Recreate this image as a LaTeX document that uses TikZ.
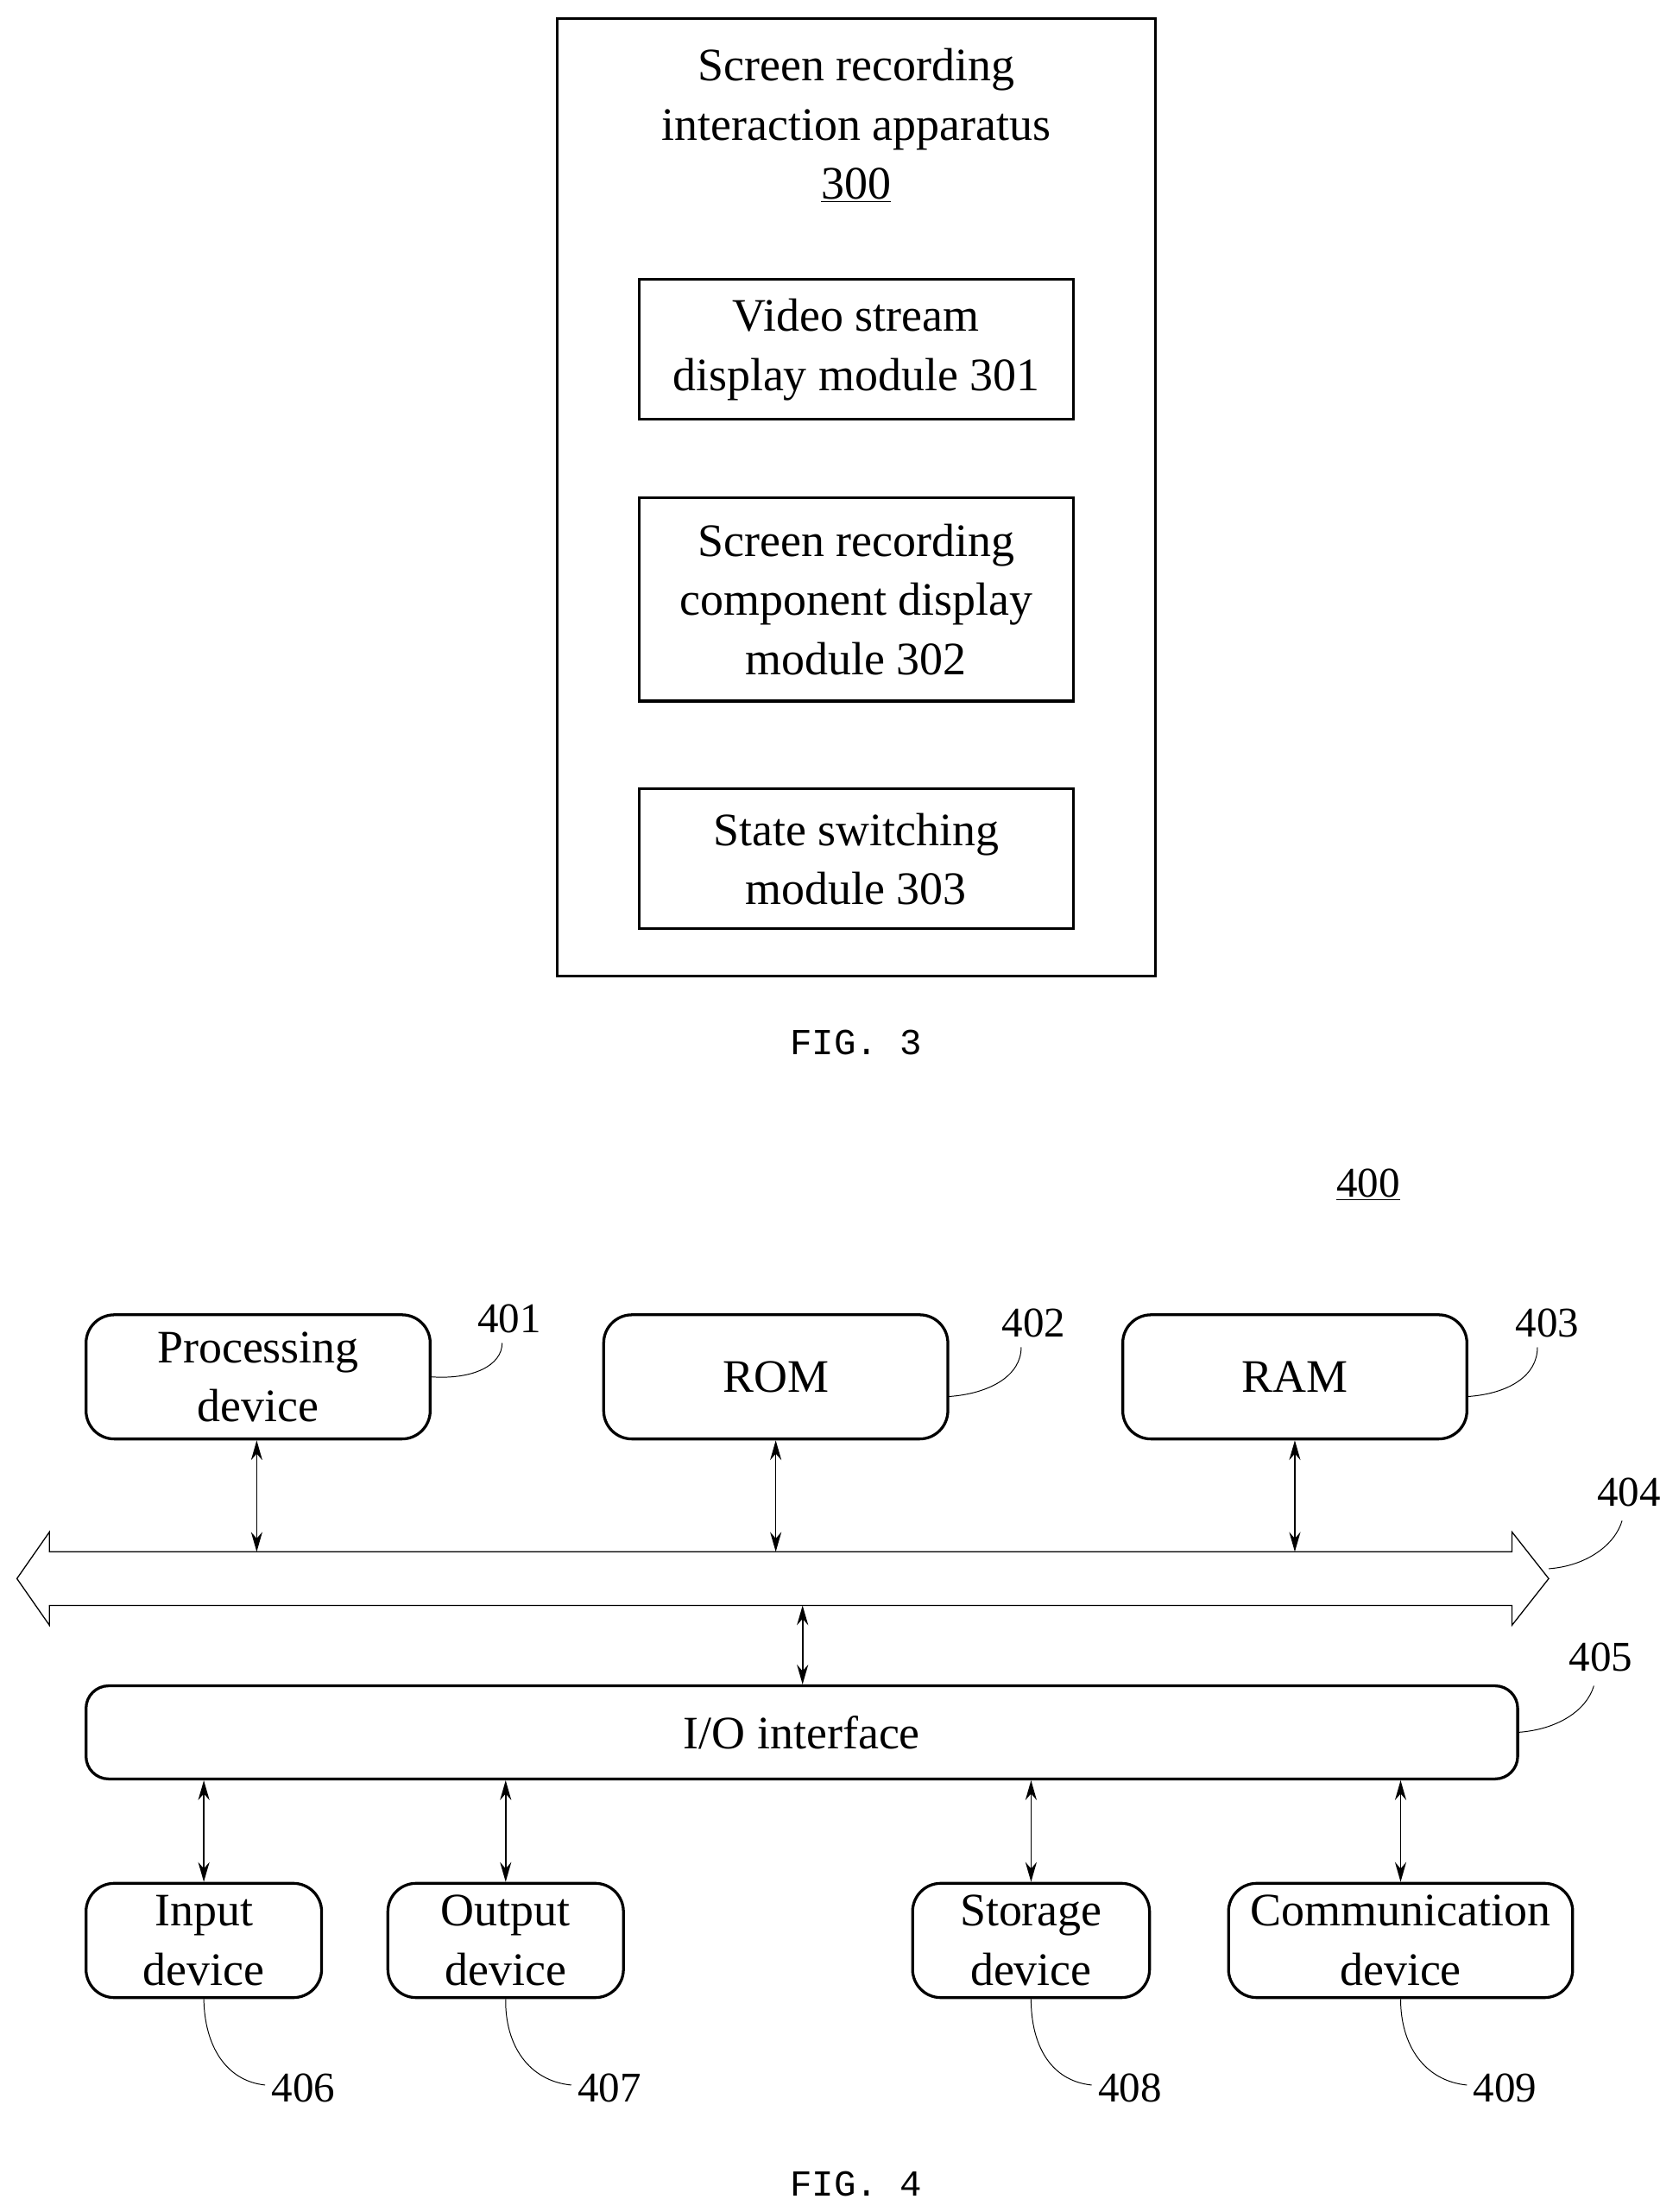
\documentclass[tikz,border=0pt]{standalone}
\usepackage{fontspec}
\setmainfont{Liberation Serif}
\setmonofont{Liberation Mono}
\usetikzlibrary{arrows.meta}
\begin{document}
\begin{tikzpicture}[x=1pt,y=-1pt,
  txt/.style={font=\fontsize{33}{42}\selectfont,align=center},
  num/.style={font=\fontsize{30}{36}\selectfont},
  sq/.style={draw,line width=2pt},
  rb/.style={draw,line width=2pt,rounded corners=20pt},
  arr/.style={line width=1pt,{Stealth[length=14pt,width=8pt]}-{Stealth[length=14pt,width=8pt]}},
  lead/.style={line width=0.6pt}]
\useasboundingbox (0,0) rectangle (1190,1568);
% FIG 3
\draw[sq] (395,13) rectangle (819,692);
\node[txt] (t300) at (607,89) {Screen recording\\interaction apparatus\\\underline{300}};
\draw[sq] (453,198) rectangle (761,297);
\node[txt] (m301) at (607,248) {Video stream\\display module 301};
\draw[sq] (453,353) rectangle (761,497);
\node[txt] (m302) at (607,425) {Screen recording\\component display\\module 302};
\draw[sq] (453,559) rectangle (761,658);
\node[txt] (m303) at (607,609) {State switching\\module 303};
\node[font=\ttfamily\fontsize{26}{30}\selectfont] (f3) at (607,739) {FIG. 3};
% FIG 4
\node[num] (n400) at (970,840) {\underline{400}};
\node[rb,txt,minimum width=244pt,minimum height=88pt] (b401) at (183,976) {Processing\\device};
\node[rb,txt,minimum width=244pt,minimum height=88pt] (b402) at (550,976) {ROM};
\node[rb,txt,minimum width=244pt,minimum height=88pt] (b403) at (918,976) {RAM};
\node[num] (l401) at (361,935) {401};
\node[num] (l402) at (733,938) {402};
\node[num] (l403) at (1097,938) {403};
\draw[lead] (b401.east) ++(0,0) .. controls (335,978) and (356,968) .. (356,952);
\draw[lead] (672,990) .. controls (702,988) and (724,975) .. (724,955);
\draw[lead] (1040,990) .. controls (1070,988) and (1090,975) .. (1090,955);
% bus
\draw[line width=0.8pt,fill=white] (35,1100) -- (1072,1100) -- (1072,1086) -- (1098,1119) -- (1072,1152) -- (1072,1138) -- (35,1138) -- (35,1152) -- (12,1119) -- (35,1086) -- cycle;
\coordinate (bus1) at (182,1100);
\coordinate (bus2) at (550,1100);
\coordinate (bus3) at (918,1100);
\coordinate (busb) at (569,1138);
\node[num] (l404) at (1155,1058) {404};
\draw[lead] (1098,1112) .. controls (1125,1110) and (1145,1095) .. (1150,1078);
\node[rb,txt,minimum width=1015pt,minimum height=66pt,rounded corners=16pt] (io) at (568.5,1228) {I/O interface};
\node[num] (l405) at (1135,1175) {405};
\draw[lead] (1076,1228) .. controls (1105,1226) and (1125,1212) .. (1130,1195);
\draw[arr] (b401.south -| bus1) -- (bus1);
\draw[arr] (b402.south) -- (bus2);
\draw[arr] (b403.south -| bus3) -- (bus3);
\draw[arr] (busb) -- (io.north -| busb);
% bottom
\node[rb,txt,minimum width=167pt,minimum height=81pt] (b406) at (144.5,1375.5) {Input\\device};
\node[rb,txt,minimum width=167pt,minimum height=81pt] (b407) at (358.5,1375.5) {Output\\device};
\node[rb,txt,minimum width=168pt,minimum height=81pt] (b408) at (731,1375.5) {Storage\\device};
\node[rb,txt,minimum width=244pt,minimum height=81pt,inner sep=2pt] (b409) at (993,1375.5) {Communication\\device};
\foreach \b in {406,407,408,409}{\draw[arr] (io.south -| b\b.north) -- (b\b.north);}
\node[num] (l406) at (215,1480) {406};
\node[num] (l407) at (432,1480) {407};
\node[num] (l408) at (801,1480) {408};
\node[num] (l409) at (1067,1480) {409};
\draw[lead] (b406.south) .. controls (145,1450) and (160,1475) .. (188,1478);
\draw[lead] (b407.south) .. controls (358,1450) and (375,1475) .. (405,1478);
\draw[lead] (b408.south) .. controls (731,1450) and (745,1475) .. (774,1478);
\draw[lead] (b409.south) .. controls (993,1450) and (1010,1475) .. (1040,1478);
\node[font=\ttfamily\fontsize{26}{30}\selectfont] (f4) at (607,1548) {FIG. 4};
\end{tikzpicture}
\end{document}
